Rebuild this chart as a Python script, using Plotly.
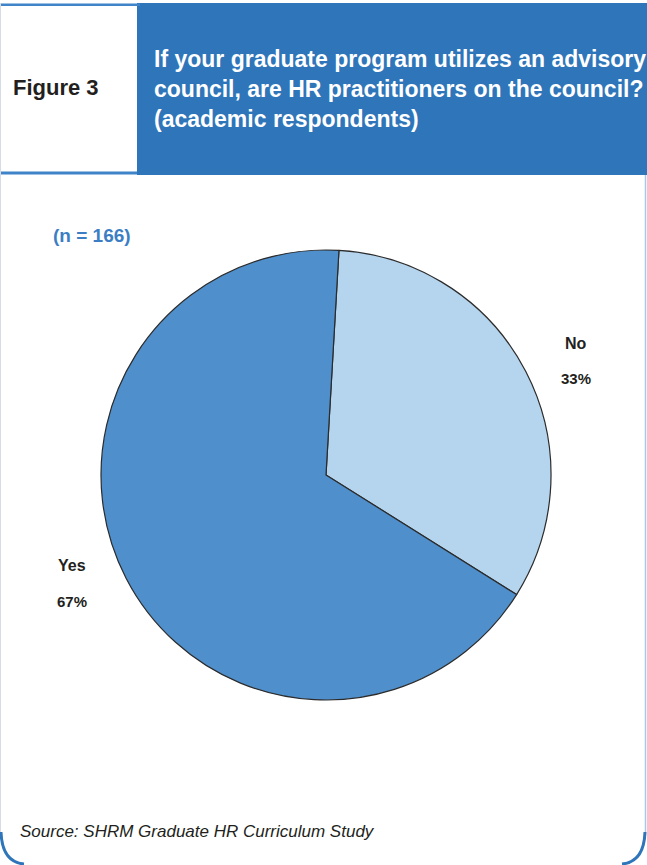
import plotly.graph_objects as go

# Survey responses (academic respondents, n = 166)
categories = ["No", "Yes"]
shares = [33, 67]
sample_size = 166

slice_colors = ["#B5D5EF", "#4F8FCB"]
header_blue = "#2E75B9"
text_dark = "#231F20"
FONT = "Liberation Sans, Arial, sans-serif"

W, H = 647, 865


def px(x):
    return x / W


def py(y):
    return 1 - y / H


fig = go.Figure(
    go.Pie(
        labels=categories,
        values=shares,
        sort=False,
        direction="clockwise",
        rotation=3.3,
        marker=dict(colors=slice_colors, line=dict(color="#2B2B2B", width=1.2)),
        textinfo="none",
        hoverinfo="label+percent",
        showlegend=False,
        domain=dict(x=[px(101), px(551)], y=[py(700), py(250)]),
    )
)

shapes = [
    # header: blue title band
    dict(type="rect", xref="paper", yref="paper",
         x0=px(137), x1=px(647), y0=py(175), y1=py(3),
         fillcolor=header_blue, line=dict(width=0), layer="below"),
    # thin rules framing the "Figure 3" box
    dict(type="rect", xref="paper", yref="paper",
         x0=px(0), x1=px(140), y0=py(6), y1=py(3.5),
         fillcolor="#3F84C8", line=dict(width=0)),
    dict(type="rect", xref="paper", yref="paper",
         x0=px(0), x1=px(137), y0=py(174.5), y1=py(171.5),
         fillcolor="#3F84C8", line=dict(width=0)),
    # faint left edge
    dict(type="line", xref="paper", yref="paper",
         x0=px(0.5), x1=px(0.5), y0=py(3), y1=py(835),
         line=dict(color="#D5DCE6", width=1)),
    # right edge of the panel
    dict(type="line", xref="paper", yref="paper",
         x0=px(645.5), x1=px(645.5), y0=py(175), y1=py(835),
         line=dict(color="#A9C8E8", width=1.5)),
    # rounded bottom corners
    dict(type="path", xref="paper", yref="paper",
         path=f"M {px(1)} {py(832)} Q {px(2)} {py(862)} {px(24)} {py(864)}",
         line=dict(color="#2E75B9", width=3)),
    dict(type="path", xref="paper", yref="paper",
         path=f"M {px(645)} {py(832)} Q {px(644)} {py(862)} {px(622)} {py(864)}",
         line=dict(color="#2E75B9", width=3)),
]


def note(text, x, y, size, color, xanchor="left", align="left"):
    return dict(text=text, x=px(x), y=py(y), xref="paper", yref="paper",
                xanchor=xanchor, yanchor="middle", align=align, showarrow=False,
                font=dict(family=FONT, size=size, color=color))


annotations = [
    note("<b>Figure 3</b>", 11, 88, 22, text_dark),
    note("<b>If your graduate program utilizes an advisory<br>"
         "council, are HR practitioners on the council?<br>"
         "(academic respondents)</b>", 152, 89, 23, "white"),
    note(f"<b>(n = {sample_size})</b>", 51, 236, 19, "#3C7EC4"),
    note("<i>Source: SHRM Graduate HR Curriculum Study</i>", 18, 831, 17, text_dark),
]

label_pos = {"No": (576, 343), "Yes": (72, 565)}
for cat, share in zip(categories, shares):
    lx, ly = label_pos[cat]
    annotations.append(note(f"<b>{cat}</b>", lx, ly, 16, text_dark, xanchor="center"))
    annotations.append(note(f"<b>{share}%</b>", lx, ly + 36, 15, text_dark, xanchor="center"))

fig.update_layout(
    width=W, height=H,
    margin=dict(l=0, r=0, t=0, b=0),
    paper_bgcolor="white",
    plot_bgcolor="white",
    shapes=shapes,
    annotations=annotations,
)

fig.write_html("out.html", config={"displayModeBar": False})
